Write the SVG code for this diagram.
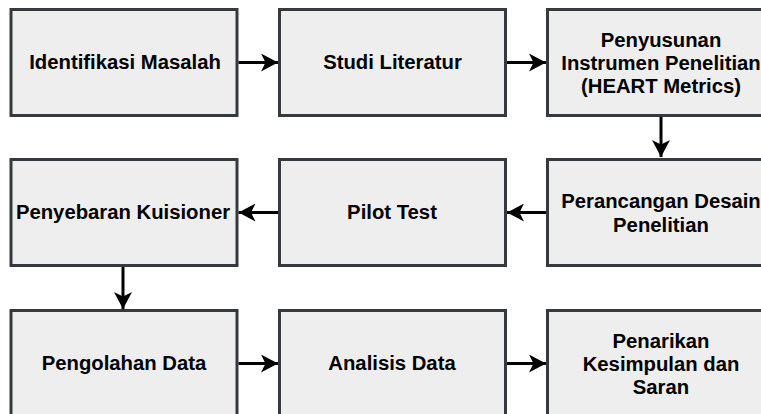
<svg xmlns="http://www.w3.org/2000/svg" width="761" height="414" viewBox="0 0 761 414">
<style>
.box{fill:#eeeeee;stroke:#36393d;stroke-width:3}
.lbl{font-family:"Liberation Sans",Arial,Helvetica,sans-serif;font-weight:bold;font-size:20.3px;fill:#000;text-anchor:middle}
.edge{stroke:#000;stroke-width:3;fill:none}
</style>
<defs>
<marker id="arr" viewBox="0 0 17 18" refX="17" refY="9" markerWidth="17" markerHeight="18" markerUnits="userSpaceOnUse" orient="auto">
<path d="M0,0 L17,9 L0,18 L4.5,9 Z" fill="#000"/>
</marker>
</defs>
<rect width="761" height="414" fill="#ffffff"/>
<g id="n1"><rect class="box" x="11" y="9.5" width="226" height="106"/><text class="lbl" x="125" y="69">Identifikasi Masalah</text></g>
<g id="n2"><rect class="box" x="279.5" y="9.5" width="226" height="106"/><text class="lbl" x="392.5" y="69">Studi Literatur</text></g>
<g id="n3"><rect class="box" x="547.5" y="9.5" width="227" height="106"/><text class="lbl" x="661" y="47">Penyusunan</text><text class="lbl" x="661" y="70">Instrumen Penelitian</text><text class="lbl" x="661" y="93">(HEART Metrics)</text></g>
<g id="n4"><rect class="box" x="547.5" y="159.5" width="227" height="106"/><text class="lbl" x="661" y="208">Perancangan Desain</text><text class="lbl" x="661" y="232">Penelitian</text></g>
<g id="n5"><rect class="box" x="279.5" y="159.5" width="226" height="106"/><text class="lbl" x="392" y="219">Pilot Test</text></g>
<g id="n6"><rect class="box" x="11" y="159.5" width="226" height="106"/><text class="lbl" x="123" y="219">Penyebaran Kuisioner</text></g>
<g id="n7"><rect class="box" x="11" y="310.5" width="226" height="106"/><text class="lbl" x="124" y="370">Pengolahan Data</text></g>
<g id="n8"><rect class="box" x="279.5" y="310.5" width="226" height="106"/><text class="lbl" x="392" y="370">Analisis Data</text></g>
<g id="n9"><rect class="box" x="547.5" y="310.5" width="227" height="106"/><text class="lbl" x="661" y="348">Penarikan</text><text class="lbl" x="661" y="371">Kesimpulan dan</text><text class="lbl" x="661" y="394">Saran</text></g>
<g id="edges">
<path class="edge" d="M238.5,62.5 L278,62.5" marker-end="url(#arr)"/>
<path class="edge" d="M507,62.5 L546,62.5" marker-end="url(#arr)"/>
<path class="edge" d="M661,117 L661,157" marker-end="url(#arr)"/>
<path class="edge" d="M546,212.5 L507,212.5" marker-end="url(#arr)"/>
<path class="edge" d="M278,212.5 L238.5,212.5" marker-end="url(#arr)"/>
<path class="edge" d="M123,267 L123,309" marker-end="url(#arr)"/>
<path class="edge" d="M238.5,363.5 L278,363.5" marker-end="url(#arr)"/>
<path class="edge" d="M507,363.5 L546,363.5" marker-end="url(#arr)"/>
</g>
</svg>
